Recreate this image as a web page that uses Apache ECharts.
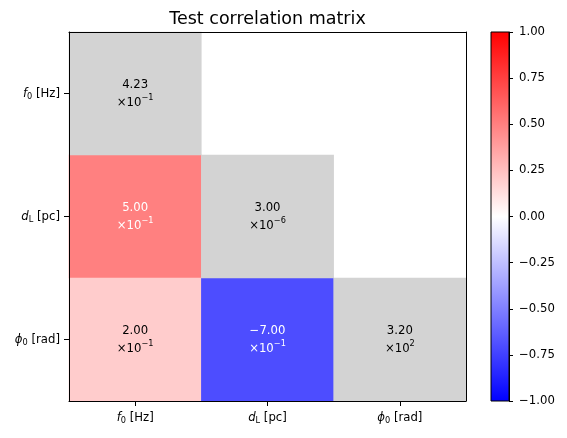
<!DOCTYPE html>
<html>
<head>
<meta charset="utf-8">
<script src="https://cdn.jsdelivr.net/npm/echarts@6/dist/echarts.min.js"></script>
<style>
html, body { margin: 0; padding: 0; background: #fff; }
#main { width: 567px; height: 438px; }
</style>
</head>
<body>
<div id="main"></div>
<script>
// matrix rows / columns
const params = ['f_0 [Hz]', 'd_L [pc]', 'ϕ_0 [rad]'];
// diagonal: parameter values (drawn on grey)
const diagValues = [0.423, 3.0e-6, 320];
// lower triangle: correlation coefficients
const corrRows = [1, 2, 2];
const corrCols = [0, 0, 1];
const corrValues = [0.5, 0.2, -0.7];
// colour bar
const cbarMin = -1, cbarMax = 1, cbarStep = 0.25;
const bwr = ['#0000ff', '#ffffff', '#ff0000'];

const FONT = 'DejaVu Sans';
const FS = 11.7;

function minus(s) { return String(s).replace('-', '\u2212'); }

// 4.23 x10^-1 style text
function sci(v) {
    let e = Math.floor(Math.log10(Math.abs(v)));
    let m = v / Math.pow(10, e);
    if (Math.abs(m) >= 9.995) { m /= 10; e += 1; }
    return '{m|' + minus(m.toFixed(2)) + '}\n{m|\u00d710}{sup|' + minus(e) + '}';
}

// "f_0 [Hz]" -> italic f, subscript 0
function texLabel(s) {
    const p = s.match(/^(.)_(\S+)(.*)$/);
    return '{it|' + p[1] + '}{sub|' + p[2] + '}{n|' + p[3] + '}';
}

const cellRich = {
    m: { fontSize: FS, lineHeight: 18, fontFamily: FONT },
    sup: { fontSize: 8.2, verticalAlign: 'top', fontFamily: FONT }
};
const axisRich = {
    it: { fontSize: FS, fontStyle: 'italic', lineHeight: 15, fontFamily: FONT, color: '#000' },
    sub: { fontSize: 8.2, verticalAlign: 'bottom', fontFamily: FONT, color: '#000' },
    n: { fontSize: FS, lineHeight: 15, fontFamily: FONT, color: '#000' }
};

const blackLine = { show: true, onZero: false, lineStyle: { color: '#000', width: 1 } };
const noTick = { show: false };
const noLabel = { show: false };
const noSplit = { show: false };

const corrData = corrValues.map((v, i) => ({
    value: [corrCols[i], corrRows[i], v],
    label: { color: Math.abs(v) > 0.4 ? '#fff' : '#000' }
}));
const diagData = diagValues.map((v, i) => ({ value: [i, i, v] }));

// colour bar fill, top = max
const cbarFill = new echarts.graphic.LinearGradient(0, 0, 0, 1,
    bwr.slice().reverse().map((c, i, a) => ({ offset: i / (a.length - 1), color: c })));

const chart = echarts.init(document.getElementById('main'), null, { renderer: 'canvas' });
chart.setOption({
    animation: false,
    backgroundColor: '#fff',
    textStyle: { fontFamily: FONT },
    title: {
        text: 'Test correlation matrix',
        left: 267.5, top: 10, padding: 0,
        textAlign: 'center',
        textStyle: { fontFamily: FONT, fontSize: 17.5, fontWeight: 'normal', color: '#000' }
    },
    grid: [
        { left: 69, top: 32, width: 397, height: 369 },
        { left: 491, top: 32, width: 18, height: 369, show: true,
          backgroundColor: cbarFill, borderColor: '#000', borderWidth: 1 }
    ],
    visualMap: {
        type: 'continuous',
        show: false,
        seriesIndex: 0,
        min: cbarMin, max: cbarMax,
        inRange: { color: bwr }
    },
    xAxis: [
        {
            gridIndex: 0, type: 'category', data: params, position: 'bottom', z: 10,
            axisLine: blackLine,
            axisTick: { show: true, alignWithLabel: true, length: 5, lineStyle: { color: '#000' } },
            axisLabel: { formatter: texLabel, rich: axisRich, margin: 9, interval: 0 },
            splitLine: noSplit
        },
        { gridIndex: 0, type: 'category', data: params, position: 'top', z: 10,
          axisLine: blackLine, axisTick: noTick, axisLabel: noLabel, splitLine: noSplit },
        { gridIndex: 1, type: 'value', min: 0, max: 1, show: false }
    ],
    yAxis: [
        {
            gridIndex: 0, type: 'category', data: params, inverse: true, position: 'left', z: 10,
            axisLine: blackLine,
            axisTick: { show: true, alignWithLabel: true, length: 5, lineStyle: { color: '#000' } },
            axisLabel: { formatter: texLabel, rich: axisRich, margin: 9, interval: 0 },
            splitLine: noSplit
        },
        { gridIndex: 0, type: 'category', data: params, inverse: true, position: 'right', z: 10,
          axisLine: blackLine, axisTick: noTick, axisLabel: noLabel, splitLine: noSplit },
        {
            gridIndex: 1, type: 'value', min: cbarMin, max: cbarMax, interval: cbarStep,
            position: 'right', z: 10,
            axisLine: blackLine,
            axisTick: { show: true, length: 4, lineStyle: { color: '#000' } },
            axisLabel: { formatter: v => minus(v.toFixed(2)), margin: 10, fontSize: FS, color: '#000', fontFamily: FONT },
            splitLine: noSplit
        }
    ],
    series: [
        {
            name: 'correlation', type: 'heatmap',
            xAxisIndex: 0, yAxisIndex: 0,
            data: corrData,
            label: { show: true, formatter: p => sci(p.value[2]), rich: cellRich, fontFamily: FONT },
            emphasis: { disabled: true }
        },
        {
            name: 'value', type: 'heatmap',
            xAxisIndex: 0, yAxisIndex: 0,
            data: diagData,
            itemStyle: { color: '#d3d3d3' },
            label: { show: true, color: '#000', formatter: p => sci(p.value[2]), rich: cellRich, fontFamily: FONT },
            emphasis: { disabled: true }
        }
    ]
});
</script>
</body>
</html>
